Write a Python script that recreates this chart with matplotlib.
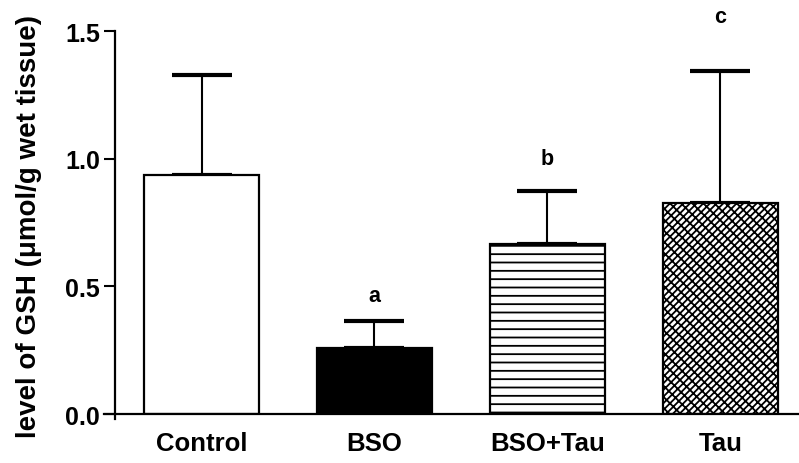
import numpy as np
import matplotlib
matplotlib.use("Agg")
import matplotlib.pyplot as plt

groups = ["Control", "BSO", "BSO+Tau", "Tau"]
means = [0.937, 0.258, 0.666, 0.826]
errors = [0.391, 0.107, 0.207, 0.517]
letters = ["", "a", "b", "c"]
letter_y = [None, 0.463, 1.0, 1.555]
faces = ["white", "black", "white", "white"]
hatches = [None, None, "--", "/////\\\\\\"]

plt.rcParams["font.family"] = ["Liberation Sans", "DejaVu Sans"]
plt.rcParams["font.weight"] = "bold"
plt.rcParams["hatch.linewidth"] = 1.3

fig = plt.figure(figsize=(7.99, 4.64), dpi=100)
ax = fig.add_axes([0.144, 0.1056, 0.856, 0.8254])

x = np.arange(len(groups))
for xi, m, fc, h in zip(x, means, faces, hatches):
    ax.bar(xi, m, width=0.665, color=fc, edgecolor="black", linewidth=1.6,
           hatch=h, zorder=2)

ax.errorbar(x, means, yerr=[np.zeros(len(x)), errors], fmt="none",
            ecolor="black", elinewidth=1.5, capsize=21.6, capthick=3, zorder=1)

for xi, lab, ly in zip(x, letters, letter_y):
    if lab:
        ax.text(xi, ly, lab, ha="center", va="center", fontsize=15.5,
                fontweight="bold", clip_on=False)

ax.set_xlim(-0.5, 3.455)
ax.set_ylim(0, 1.5)
ax.set_yticks([0.0, 0.5, 1.0, 1.5])
ax.set_yticklabels(["0.0", "0.5", "1.0", "1.5"])
ax.set_xticks(x)
ax.set_xticklabels(groups)
ax.tick_params(axis="x", length=0, pad=12, labelsize=18.5)
ax.tick_params(axis="y", length=8, width=1.5, labelsize=18, pad=3)
for lab in ax.get_xticklabels() + ax.get_yticklabels():
    lab.set_fontweight("bold")

ax.spines["top"].set_visible(False)
ax.spines["right"].set_visible(False)
ax.spines["left"].set_linewidth(1.6)
ax.spines["bottom"].set_linewidth(1.6)
ax.spines["bottom"].set_bounds(-0.565, 3.455)
ax.spines["left"].set_bounds(-0.02, 1.5)

ax.set_ylabel("level of GSH (\u03bcmol/g wet tissue)", fontsize=20,
              fontweight="bold")
ax.yaxis.set_label_coords(-0.107, 0.492)

fig.savefig("out.png", dpi=100)
